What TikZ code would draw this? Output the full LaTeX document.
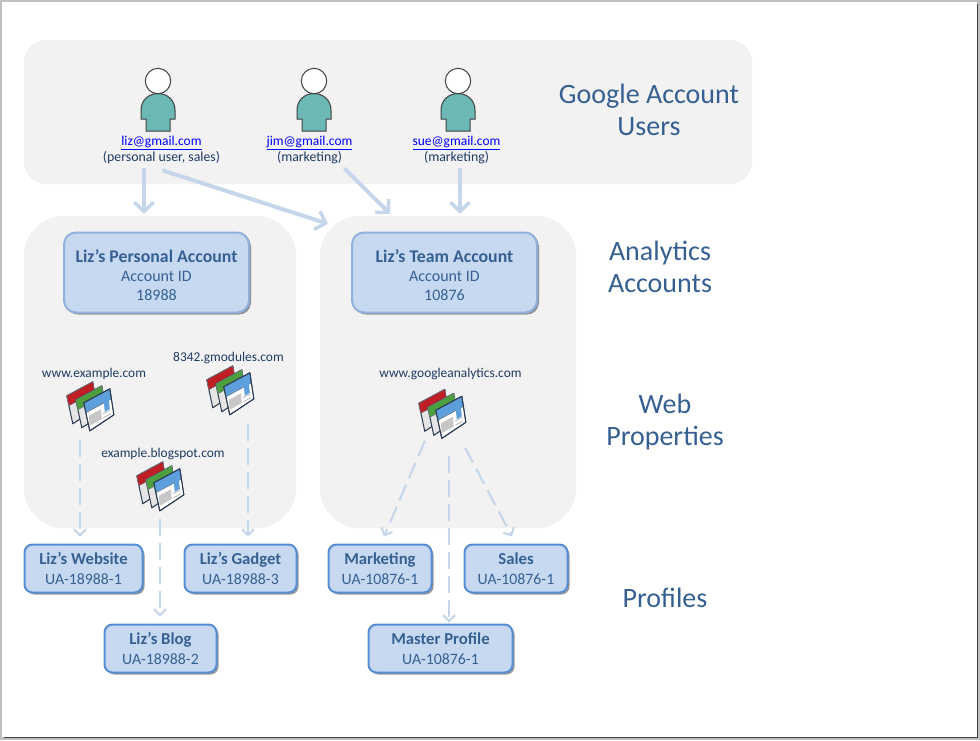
\documentclass[tikz,border=0pt]{standalone}
\usepackage{fontspec}
\setmainfont{Carlito}
\usetikzlibrary{arrows.meta,shadows}
\definecolor{panelgray}{HTML}{F2F2F2}
\definecolor{boxblue}{HTML}{C6D9F1}
\definecolor{edgeblue}{HTML}{558ED5}
\definecolor{softedge}{HTML}{8EB0DA}
\definecolor{linkblue}{HTML}{C5D6EA}
\definecolor{titleblue}{HTML}{366092}
\definecolor{inkblue}{HTML}{1F3A63}
\definecolor{teal}{HTML}{6BB8B5}
\definecolor{bandred}{HTML}{BE1E24}
\definecolor{bandgreen}{HTML}{4C9F3C}
\definecolor{bandblue}{HTML}{5C9FDC}
\definecolor{cardedge}{HTML}{2A3A50}
\tikzstyle{panel} = [rectangle, fill=panelgray, inner sep=0pt]
\tikzstyle{account} = [rectangle, draw=softedge, line width=2pt, fill=boxblue,
    rounded corners=12pt, text=titleblue, align=center, minimum width=185pt,
    minimum height=80pt, inner sep=0pt, font=\fontsize{16}{19}\selectfont,
    drop shadow={shadow xshift=2pt, shadow yshift=-2pt, fill=black, opacity=.4}]
\tikzstyle{profile} = [rectangle, draw=edgeblue, line width=2pt, fill=boxblue,
    rounded corners=8pt, text=titleblue, align=center, minimum height=48pt,
    inner sep=0pt, font=\fontsize{16.7}{20}\selectfont,
    drop shadow={shadow xshift=2pt, shadow yshift=-2pt, fill=black, opacity=.4}]
\tikzstyle{user} = [align=center, text=inkblue, font=\fontsize{13.8}{16}\selectfont]
\tikzstyle{site} = [text=inkblue, font=\fontsize{13.4}{15}\selectfont]
\tikzstyle{section} = [align=center, text=titleblue, font=\fontsize{28}{32}\selectfont]
\tikzstyle{iconspot} = [minimum width=48pt, minimum height=47pt, inner sep=0pt]
\tikzstyle{line} = [draw=linkblue, line width=4pt, -{Straight Barb[length=9pt,width=19pt,line width=3.5pt]}]
\tikzstyle{dashline} = [draw=linkblue, line width=2pt, dash pattern=on 17pt off 7pt,
    -{Straight Barb[length=6pt,width=12pt,line width=2pt]}]
\newcommand{\mailto}[1]{\textcolor{blue}{\underline{\fontsize{13.5}{16}\selectfont #1}}}
\newcommand{\acctname}[1]{\rule{0pt}{19pt}\textbf{\fontsize{17.8}{20}\selectfont #1}}
\newcommand{\uaid}[1]{{\fontsize{15.8}{18}\selectfont #1}}
\newcommand{\card}[3]{% x shift, y shift, band colour
  \filldraw [shift={(#1,#2)}, draw=cardedge, line width=1pt, fill=black!10, line join=round]
    (18,18) -- (44,4) -- (48,30) -- (24,46) -- cycle;
  \filldraw [shift={(#1,#2)}, draw=cardedge!70, line width=.5pt, fill=#3, line join=round]
    (18,18) -- (44,4) -- (46,14) -- (20,28) -- cycle;}
\tikzset{
  person/.pic={
    \filldraw [draw=black!75, line width=1pt, fill=teal]
      (-17,29) .. controls (-17,19) and (-9,12.5) .. (0,12.5)
      .. controls (9,12.5) and (17,19) .. (17,29) -- (17,38) -- (12,38) -- (12,50)
      -- (-12,50) -- (-12,38) -- (-17,38) -- cycle;
    \filldraw [draw=black!75, line width=1pt, fill=white] (0,0) circle (12.7);
  },
  webicon/.pic={
    \card{-17}{-7}{bandred}
    \card{-8}{-3}{bandgreen}
    \card{0}{0}{bandblue}
    \fill [white] (20.5,28.5) -- (45.5,15) -- (47.5,30) -- (24.5,45) -- cycle;
    \fill [black!22] (23,31) -- (35,24.5) -- (36,34) -- (24,41) -- cycle;
    \fill [bandblue] (38,17) -- (43,14.5) -- (44,24) -- (39,27) -- cycle;
    \draw [black!30, line width=.7pt] (37,29) -- (44.5,25) (37.5,33) -- (45,29);
    \draw [cardedge, line width=1pt, line join=round]
      (18,18) -- (44,4) -- (48,30) -- (24,46) -- cycle;
  }
}
\begin{document}
\begin{tikzpicture}[x=1pt, y=-1pt]
    \useasboundingbox (0,0) rectangle (980,740);
    % page edge
    \fill [black!25] (0,0) rectangle (980,740);
    \fill [black!75] (4,4) rectangle (978,738);
    \fill [white] (2,2) rectangle (976.5,736.5);

    % grey panels
    \node [panel, rounded corners=22pt, minimum width=728pt, minimum height=144pt] (userpanel) at (388,112) {};
    \node [panel, rounded corners=40pt, minimum width=272pt, minimum height=312pt] (lizpanel) at (160,372) {};
    \node [panel, rounded corners=40pt, minimum width=256pt, minimum height=312pt] (teampanel) at (448,372) {};

    % users
    \pic at (158,81) {person};
    \pic at (314,81) {person};
    \pic at (458,81) {person};
    \node [user] (lizuser) at (161.5,150) {\mailto{liz@gmail.com}\\(personal user, sales)};
    \node [user] (jimuser) at (309.5,150) {\mailto{jim@gmail.com}\\(marketing)};
    \node [user] (sueuser) at (456.5,150) {\mailto{sue@gmail.com}\\(marketing)};

    % accounts
    \node [account] (lizacct) at (156.5,272.5) {\acctname{Liz’s Personal Account}\\Account ID\\18988};
    \node [account] (teamacct) at (444.5,272.5) {\acctname{Liz’s Team Account}\\Account ID\\10876};

    % web properties
    \node [site] at (94,374) (examplesite) {www.example.com};
    \node [site] at (228.5,358) (gadgetsite) {8342.gmodules.com};
    \node [site] at (163,454) (blogsite) {example.blogspot.com};
    \node [site] at (450.5,374) (teamsite) {www.googleanalytics.com};
    \node [iconspot] (exampleicon) at (90,408.5) {};
    \node [iconspot] (gadgeticon) at (230,392.5) {};
    \node [iconspot] (blogicon) at (160,488.5) {};
    \node [iconspot] (teamicon) at (442,416) {};
    \pic at (exampleicon.north west) {webicon};
    \pic at (gadgeticon.north west) {webicon};
    \pic at (blogicon.north west) {webicon};
    \pic at (teamicon.north west) {webicon};

    % profiles
    \node [profile, minimum width=118pt] (website) at (83.5,568.5) {\textbf{Liz’s Website}\\\uaid{UA-18988-1}};
    \node [profile, minimum width=112pt] (gadget) at (240.5,568.5) {\textbf{Liz’s Gadget}\\\uaid{UA-18988-3}};
    \node [profile, minimum width=112pt] (blog) at (160.5,648.5) {\textbf{Liz’s Blog}\\\uaid{UA-18988-2}};
    \node [profile, minimum width=103pt] (marketing) at (380,568.5) {\textbf{Marketing}\\\uaid{UA-10876-1}};
    \node [profile, minimum width=103pt] (sales) at (516,568.5) {\textbf{Sales}\\\uaid{UA-10876-1}};
    \node [profile, minimum width=144pt] (master) at (440.5,648.5) {\textbf{Master Profile}\\\uaid{UA-10876-1}};

    % section titles
    \node [section] (usertitle) at (649,109.5) {Google Account\\Users};
    \node [section] (accttitle) at (660,266.5) {Analytics\\Accounts};
    \node [section] (webtitle) at (665,422) {Web\\Properties};
    \node [section] (proftitle) at (665,597.5) {Profiles};

    % users to accounts
    \path [line] ([xshift=-17.5pt,yshift=-1pt]lizuser.south) -- ([xshift=-16pt,yshift=2pt]lizpanel.north);
    \path [line] ([xshift=1pt,yshift=-3pt]lizuser.south) -- ([xshift=-120pt,yshift=-8pt]teampanel.north);
    \path [line] ([xshift=35pt,yshift=-1pt]jimuser.south) -- ([xshift=-58pt,yshift=2pt]teampanel.north);
    \path [line] ([xshift=3.5pt,yshift=-1pt]sueuser.south) -- ([xshift=12pt,yshift=2pt]teampanel.north);

    % properties to profiles
    \path [dashline] ([xshift=-10pt,yshift=-8pt]exampleicon.south) -- ([xshift=-3.5pt,yshift=7pt]website.north);
    \path [dashline] ([xshift=18pt,yshift=-8pt]gadgeticon.south) -- ([xshift=7.5pt,yshift=7pt]gadget.north);
    \path [dashline] ([yshift=-7pt]blogicon.south) -- ([xshift=-0.5pt,yshift=7pt]blog.north);
    \path [dashline] ([xshift=-17pt,yshift=-1pt]teamicon.south) -- ([xshift=4pt,yshift=7pt]marketing.north);
    \path [dashline] ([xshift=7pt,yshift=-16pt]teamicon.south) -- ([xshift=8.5pt,yshift=1pt]master.north);
    \path [dashline] ([xshift=23pt,yshift=-8pt]teamicon.south) -- ([xshift=-4pt,yshift=7pt]sales.north);
\end{tikzpicture}
\end{document}
